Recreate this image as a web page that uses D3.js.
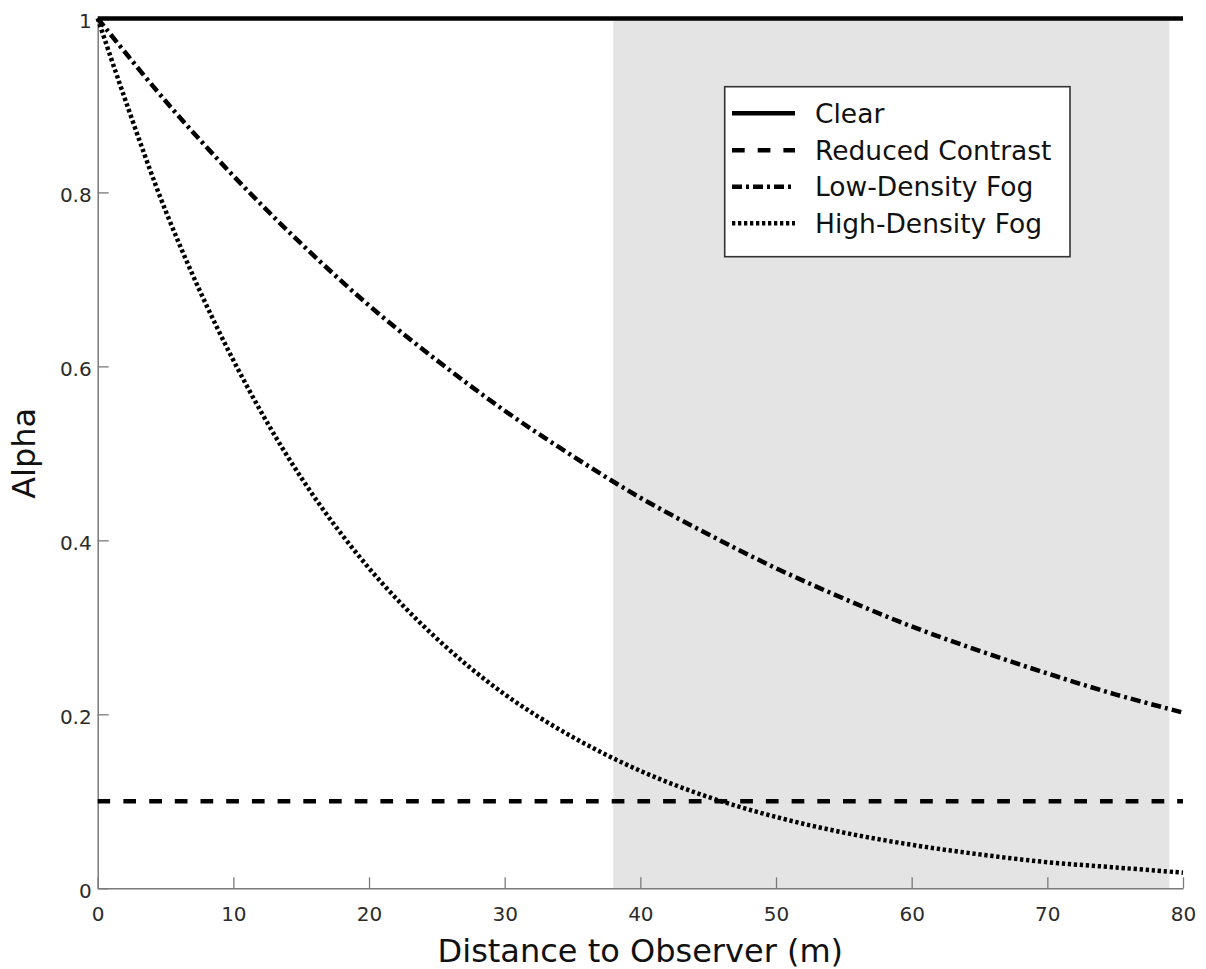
<!DOCTYPE html>
<html>
<head>
<meta charset="utf-8">
<script src="https://cdn.jsdelivr.net/npm/d3@7"></script>
<style>
  html, body { margin: 0; padding: 0; background: #ffffff; }
  svg { display: block; }
  text { font-family: "DejaVu Sans", Verdana, sans-serif; }
</style>
</head>
<body>
<svg id="chart" width="1206" height="969"></svg>
<script>
// ---- data ----
const distances = [0, 5, 10, 15, 20, 25, 30, 35, 40, 45, 50, 55, 60, 65, 70, 75, 80];
const clearAlpha = [1, 1, 1, 1, 1, 1, 1, 1, 1, 1, 1, 1, 1, 1, 1, 1, 1];
const reducedContrastAlpha = [0.1, 0.1, 0.1, 0.1, 0.1, 0.1, 0.1, 0.1, 0.1, 0.1, 0.1, 0.1, 0.1, 0.1, 0.1, 0.1, 0.1];
const lowDensityFogAlpha = [1, 0.905, 0.819, 0.741, 0.670, 0.607, 0.549, 0.497, 0.449, 0.407, 0.368, 0.333, 0.301, 0.273, 0.247, 0.223, 0.202];
const highDensityFogAlpha = [1, 0.779, 0.607, 0.472, 0.368, 0.287, 0.223, 0.174, 0.135, 0.105, 0.082, 0.064, 0.050, 0.039, 0.030, 0.024, 0.018];
const shadedRange = [38, 79];
const xTicks = [0, 10, 20, 30, 40, 50, 60, 70, 80];
const yTicks = [0, 0.2, 0.4, 0.6, 0.8, 1];
const seriesNames = ["Clear", "Reduced Contrast", "Low-Density Fog", "High-Density Fog"];
const xTitle = "Distance to Observer (m)";
const yTitle = "Alpha";

(function () {
const series = [
  { name: seriesNames[0], values: clearAlpha, dash: null },
  { name: seriesNames[1], values: reducedContrastAlpha, dash: "12.7,13" },
  { name: seriesNames[2], values: lowDensityFogAlpha, dash: "10,4,3,4" },
  { name: seriesNames[3], values: highDensityFogAlpha, dash: "3.3,2.7" }
];

const svg = d3.select("#chart");
const pLeft = 97.7, pRight = 1183, pTop = 18.4, pBottom = 888.3;
const x = d3.scaleLinear().domain([0, 80]).range([pLeft, pRight]);
const y = d3.scaleLinear().domain([0, 1]).range([pBottom, pTop]);

// shaded band
svg.append("rect")
  .attr("x", x(shadedRange[0]))
  .attr("y", y(1))
  .attr("width", x(shadedRange[1]) - x(shadedRange[0]))
  .attr("height", y(0) - y(1))
  .attr("fill", "#e4e4e4");

// axes
const axisColor = "#7a7a7a";
const xAxis = d3.axisBottom(x).tickValues(xTicks).tickSizeInner(-11).tickSizeOuter(0).tickPadding(0).tickFormat(d3.format("d"));
const gx = svg.append("g").attr("transform", `translate(0,${pBottom})`).call(xAxis);
gx.attr("font-size", null).attr("font-family", null);
gx.select(".domain").attr("stroke", axisColor).attr("stroke-width", 1.5);
gx.selectAll(".tick line").attr("stroke", axisColor).attr("stroke-width", 1.3);
gx.selectAll(".tick text")
  .attr("y", 32.5).attr("dy", null)
  .style("font-size", "20px").attr("fill", "#2b2b2b");

const yAxis = d3.axisLeft(y).tickValues(yTicks).tickSizeInner(-11).tickSizeOuter(0).tickPadding(0)
  .tickFormat(d => d === 0 || d === 1 ? d3.format("d")(d) : d3.format(".1f")(d));
const gy = svg.append("g").attr("transform", `translate(${pLeft},0)`).call(yAxis);
gy.attr("font-size", null).attr("font-family", null);
gy.select(".domain").attr("stroke", axisColor).attr("stroke-width", 1.5);
gy.selectAll(".tick line").attr("stroke", axisColor).attr("stroke-width", 1.3);
gy.selectAll(".tick text")
  .attr("x", -6).attr("dy", "0.45em")
  .style("font-size", "20px").attr("fill", "#2b2b2b");

// lines
const line = d3.line()
  .x((d, i) => x(distances[i]))
  .y(d => y(d))
  .curve(d3.curveCatmullRom.alpha(0.5));

series.forEach(s => {
  svg.append("path")
    .datum(s.values)
    .attr("d", line)
    .attr("fill", "none")
    .attr("stroke", "#000")
    .attr("stroke-width", 4.5)
    .attr("stroke-dasharray", s.dash)
    .attr("stroke-linecap", "butt");
});

// axis titles
svg.append("text")
  .attr("x", (pLeft + pRight) / 2).attr("y", 962)
  .attr("text-anchor", "middle")
  .style("font-size", "32px").attr("fill", "#111")
  .text(xTitle);

svg.append("text")
  .attr("transform", `translate(35,${(pTop + pBottom) / 2}) rotate(-90)`)
  .attr("text-anchor", "middle")
  .style("font-size", "32px").attr("fill", "#111")
  .text(yTitle);

// legend
const lg = svg.append("g");
lg.append("rect")
  .attr("x", 724.7).attr("y", 86.7)
  .attr("width", 1070 - 724.7).attr("height", 256.7 - 86.7)
  .attr("fill", "#fff").attr("stroke", "#333").attr("stroke-width", 1.6);
const rowY = [113.3, 150.3, 186.8, 223.3];
series.forEach((s, i) => {
  lg.append("line")
    .attr("x1", 732).attr("x2", 795)
    .attr("y1", rowY[i]).attr("y2", rowY[i])
    .attr("stroke", "#000").attr("stroke-width", 4.5)
    .attr("stroke-dasharray", s.dash);
  lg.append("text")
    .attr("x", 815).attr("y", rowY[i]).attr("dy", "0.36em")
    .style("font-size", "26.5px").attr("fill", "#111")
    .text(s.name);
});
})();
</script>
</body>
</html>
